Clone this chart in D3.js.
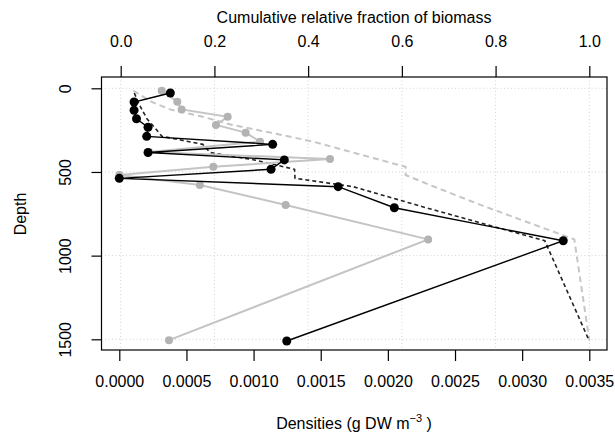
<!DOCTYPE html>
<html>
<head>
<meta charset="utf-8">
<script src="https://cdn.jsdelivr.net/npm/d3@7"></script>
<style>
  html, body { margin: 0; padding: 0; background: #fff; }
  svg { display: block; }
  text { font-family: "Liberation Sans", Arial, Helvetica, sans-serif; fill: #000; }
</style>
</head>
<body>
<svg id="chart" width="615" height="438"></svg>
<script>
// ---- Data ----
const depthBlack = [28, 82, 131, 182, 233, 287, 335, 384, 428, 484, 538, 588, 714, 911, 1510];
const densBlack  = [0.00038, 0.00011, 0.00011, 0.000128, 0.000214, 0.000204, 0.001142, 0.000214,
                    0.001229, 0.00113, 0.0, 0.00163, 0.002048, 0.003306, 0.001247];
const cumBlack   = [0.029, 0.037, 0.046, 0.056, 0.072, 0.088, 0.175, 0.191, 0.285, 0.371, 0.372,
                    0.496, 0.652, 0.905, 1.0];

const depthGray = [14, 80, 126, 170, 219, 265, 319, 380, 423, 469, 518, 578, 697, 903, 1505];
const densGray  = [0.000316, 0.000432, 0.000464, 0.000807, 0.00072, 0.000941, 0.001048, 0.00022,
                   0.001569, 0.0007, 0.0, 0.0006, 0.001239, 0.0023, 0.00037];
const depthCumGray = [14, 80, 126, 170, 219, 265, 319, 423, 469, 518, 578, 697, 903, 1505];
const cumGray      = [0.027, 0.065, 0.105, 0.175, 0.238, 0.320, 0.411, 0.547, 0.608, 0.608,
                      0.660, 0.768, 0.968, 1.0];

const densTicks  = [0, 0.0005, 0.001, 0.0015, 0.002, 0.0025, 0.003, 0.0035];
const fracTicks  = [0, 0.2, 0.4, 0.6, 0.8, 1.0];
const depthTicks = [0, 500, 1000, 1500];

// ---- Layout ----
const svg = d3.select("#chart");
const box = { left: 101.5, right: 607, top: 77, bottom: 350 };

const x    = d3.scaleLinear().domain([0, 0.0035]).range([119.3, 589.3]);
const xTop = d3.scaleLinear().domain([0, 1]).range([120.7, 589.3]);
const y    = d3.scaleLinear().domain([0, 1500]).range([88.3, 339.3]);

const FS = 16;

// grid (dotted)
const grid = svg.append("g").attr("stroke", "#d2d2d2").attr("stroke-width", 1)
  .attr("stroke-dasharray", "1,2.5");
grid.selectAll("line.v").data(fracTicks).join("line")
  .attr("x1", d => xTop(d)).attr("x2", d => xTop(d))
  .attr("y1", box.top).attr("y2", box.bottom);
grid.selectAll("line.h").data(depthTicks).join("line")
  .attr("x1", box.left).attr("x2", box.right)
  .attr("y1", d => y(d)).attr("y2", d => y(d));

// ---- Series ----
const lineDens = (dens, dep) => d3.line().x((d, i) => x(dens[i])).y((d, i) => y(dep[i]))(dens);
const lineCum  = (cum, dep) => d3.line().x((d, i) => xTop(cum[i])).y((d, i) => y(dep[i]))(cum);

// gray cumulative (dashed)
svg.append("path").attr("d", lineCum(cumGray, depthCumGray))
  .attr("fill", "none").attr("stroke", "#c6c6c6").attr("stroke-width", 2)
  .attr("stroke-dasharray", "6,4");

// black cumulative (dashed)
svg.append("path").attr("d", lineCum(cumBlack, depthBlack))
  .attr("fill", "none").attr("stroke", "#222").attr("stroke-width", 1.6)
  .attr("stroke-dasharray", "4,3");

// gray densities
svg.append("path").attr("d", lineDens(densGray, depthGray))
  .attr("fill", "none").attr("stroke", "#c4c4c4").attr("stroke-width", 2);
svg.append("g").selectAll("circle").data(densGray).join("circle")
  .attr("cx", d => x(d)).attr("cy", (d, i) => y(depthGray[i])).attr("r", 4)
  .attr("fill", "#b3b3b3");

// black densities
svg.append("path").attr("d", lineDens(densBlack, depthBlack))
  .attr("fill", "none").attr("stroke", "#000").attr("stroke-width", 1.4);
svg.append("g").selectAll("circle").data(densBlack).join("circle")
  .attr("cx", d => x(d)).attr("cy", (d, i) => y(depthBlack[i])).attr("r", 4.5)
  .attr("fill", "#000");

// ---- Box ----
svg.append("rect")
  .attr("x", box.left).attr("y", box.top)
  .attr("width", box.right - box.left).attr("height", box.bottom - box.top)
  .attr("fill", "none").attr("stroke", "#000").attr("stroke-width", 1.2);

// ---- Axes ----
const axB = svg.append("g").attr("transform", `translate(0,${box.bottom})`)
  .call(d3.axisBottom(x).tickValues(densTicks).tickFormat(d3.format(".4f"))
        .tickSize(11).tickSizeOuter(0).tickPadding(15));
const axT = svg.append("g").attr("transform", `translate(0,${box.top})`)
  .call(d3.axisTop(xTop).tickValues(fracTicks).tickFormat(d3.format(".1f"))
        .tickSize(11).tickSizeOuter(0).tickPadding(19));
const axL = svg.append("g").attr("transform", `translate(${box.left},0)`)
  .call(d3.axisLeft(y).tickValues(depthTicks).tickFormat(d3.format("d"))
        .tickSize(10).tickSizeOuter(0));

[axB, axT, axL].forEach(g => {
  g.select(".domain").remove();
  g.selectAll(".tick line").attr("stroke", "#000").attr("stroke-width", 1.2);
  g.selectAll(".tick text").attr("font-size", FS)
    .attr("font-family", "Liberation Sans, Arial, sans-serif").attr("fill", "#000");
});
// rotated depth labels (R style, parallel to axis)
axL.selectAll(".tick text")
  .attr("x", null).attr("dy", null)
  .attr("text-anchor", "middle")
  .attr("transform", "translate(-31,0) rotate(-90)");

// ---- Titles ----
svg.append("text").attr("x", 354).attr("y", 23).attr("text-anchor", "middle")
  .attr("font-size", FS).text("Cumulative relative fraction of biomass");

const bt = svg.append("text").attr("x", 354).attr("y", 429).attr("text-anchor", "middle")
  .attr("font-size", FS);
bt.append("tspan").text("Densities (g DW  m");
bt.append("tspan").attr("font-size", 11).attr("dy", -7).text("−3");
bt.append("tspan").attr("dy", 7).text(" )");

svg.append("text").attr("transform", "translate(26,214) rotate(-90)")
  .attr("text-anchor", "middle").attr("font-size", FS).text("Depth");
</script>
</body>
</html>
